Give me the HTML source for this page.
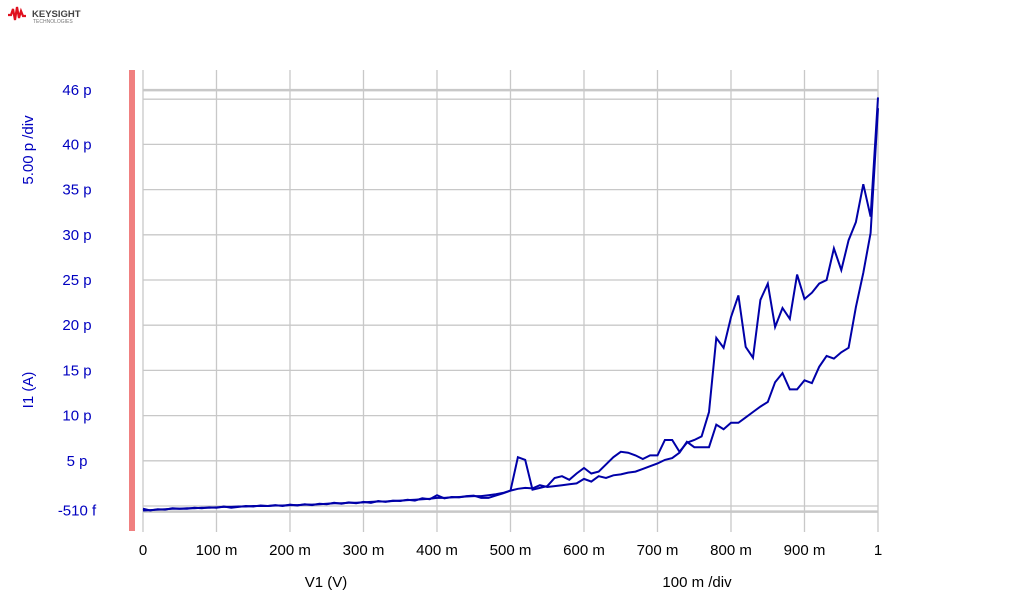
<!DOCTYPE html>
<html><head><meta charset="utf-8"><style>
body{margin:0;background:#fff;width:1020px;height:600px;overflow:hidden;font-family:"Liberation Sans",sans-serif}
svg{display:block}
</style></head><body>
<svg id="chart" width="1020" height="600" xmlns="http://www.w3.org/2000/svg">
<g>
<polyline points="8,15 11,15 13,9 15,20 17,7 19,18 21,11 23,16 26,16" fill="none" stroke="#e0101e" stroke-width="2.2"/>
<text x="32" y="17" font-size="9.5" font-weight="bold" fill="#444">KEYSIGHT</text>
<text x="33" y="23" font-size="5" fill="#777">TECHNOLOGIES</text>
</g>
<rect x="129" y="70" width="6" height="461" fill="#f08080"/>
<g id="grid"></g>
<g id="series"></g>
<g id="labels"></g>
<text transform="translate(33,390) rotate(-90)" text-anchor="middle" font-size="15" fill="#0000c0">I1 (A)</text>
<text transform="translate(33,150) rotate(-90)" text-anchor="middle" font-size="15" fill="#0000c0">5.00 p /div</text>
<text x="326" y="587" text-anchor="middle" font-size="15" fill="#000">V1 (V)</text>
<text x="697" y="587" text-anchor="middle" font-size="15" fill="#000">100 m /div</text>
</svg>
<script>
const xTicks=[0,0.1,0.2,0.3,0.4,0.5,0.6,0.7,0.8,0.9,1];
const xTickLabels=["0","100 m","200 m","300 m","400 m","500 m","600 m","700 m","800 m","900 m","1"];
const yTicks=[-0.51,5,10,15,20,25,30,35,40,46];
const yTickLabels=["-510 f","5 p","10 p","15 p","20 p","25 p","30 p","35 p","40 p","46 p"];
const yGrid=[0,5,10,15,20,25,30,35,40,45];
const seriesForward=[-0.5,-0.45,-0.4,-0.35,-0.3,-0.3,-0.25,-0.25,-0.2,-0.2,-0.15,-0.1,-0.1,-0.05,-0.05,0,0,0,0.05,0.05,0.1,0.1,0.15,0.15,0.2,0.25,0.3,0.3,0.35,0.35,0.4,0.45,0.5,0.5,0.55,0.6,0.65,0.7,0.75,0.8,0.9,0.9,0.95,1.0,1.05,1.1,1.1,1.2,1.3,1.45,
1.7,5.4,5.1,1.8,2.0,2.2,3.1,3.3,2.9,3.6,4.2,3.6,3.8,4.6,5.4,6.0,5.9,5.6,5.2,5.6,5.6,7.3,7.3,6.0,7.0,7.3,
7.7,10.4,18.6,17.5,20.9,23.3,17.6,16.4,22.8,24.6,19.8,21.9,20.7,25.6,22.9,23.6,24.6,25,28.5,26.1,29.4,31.4,35.6,32,45.2];
const seriesReverse=[-0.3,-0.5,-0.35,-0.4,-0.25,-0.3,-0.3,-0.2,-0.25,-0.15,-0.2,-0.05,-0.2,-0.1,0,-0.05,0.05,0,0.1,0,0.15,0.05,0.2,0.1,0.25,0.2,0.35,0.25,0.4,0.3,0.45,0.35,0.55,0.45,0.6,0.55,0.7,0.6,0.85,0.75,1.2,0.85,1.0,0.95,1.1,1.15,0.9,0.9,1.15,1.4,
1.7,1.9,2.0,1.95,2.3,2.1,2.2,2.3,2.4,2.5,3.0,2.7,3.3,3.1,3.4,3.5,3.7,3.8,4.1,4.4,4.7,5.1,5.3,5.9,7.1,6.5,
6.5,6.5,9.0,8.5,9.2,9.2,9.8,10.4,11,11.5,13.7,14.7,12.9,12.9,13.9,13.6,15.4,16.6,16.3,17,17.5,22,25.8,30.2,44];
const NS="http://www.w3.org/2000/svg";
const X0=143,X1=878,Y0=506,PPY=9.04;
const sx=v=>X0+(X1-X0)*v;
const sy=v=>Y0-v*PPY;
const grid=document.getElementById('grid');
function ln(x1,y1,x2,y2,name,w){const l=document.createElementNS(NS,'line');
l.setAttribute('x1',x1);l.setAttribute('y1',y1);l.setAttribute('x2',x2);l.setAttribute('y2',y2);
l.setAttribute('stroke','#c8c8c8');l.setAttribute('stroke-width',w||1.3);


grid.appendChild(l);}
xTicks.forEach(t=>ln(sx(t),70,sx(t),532,'x-grid-line'));
yGrid.forEach(t=>ln(X0,sy(t),X1,sy(t),'y-grid-line'));
ln(X0,sy(46),X1,sy(46),'top-marker-line',2.5);
ln(X0,sy(-0.51)+1,X1,sy(-0.51)+1,'bottom-marker-line',2.5);
const lab=document.getElementById('labels');
function tx(x,y,s,col,anchor,name){const t=document.createElementNS(NS,'text');
t.setAttribute('x',x);t.setAttribute('y',y);t.setAttribute('font-size','15');t.setAttribute('fill',col);t.setAttribute('text-anchor',anchor);
t.textContent=s;


lab.appendChild(t);}
xTicks.forEach((t,i)=>tx(sx(t),555,xTickLabels[i],'#000','middle','x-tick-label'));
yTicks.forEach((t,i)=>tx(77,sy(t)+5,yTickLabels[i],'#0000c0','middle','y-tick-label'));
const ser=document.getElementById('series');
function path(arr,name){const p=document.createElementNS(NS,'polyline');
p.setAttribute('points',arr.map((v,i)=>sx(i/(arr.length-1)).toFixed(1)+','+sy(v).toFixed(1)).join(' '));
p.setAttribute('fill','none');p.setAttribute('stroke','#0000a8');p.setAttribute('stroke-width','2');


ser.appendChild(p);}
path(seriesReverse,'series-reverse-sweep');
path(seriesForward,'series-forward-sweep');
</script>
</body></html>
